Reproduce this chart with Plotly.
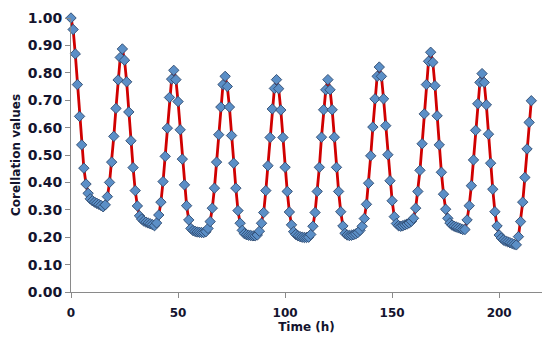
import plotly.graph_objects as go

hours = list(range(0, 216))

corr_values = [
    # 0-24
    1.000, 0.958, 0.869, 0.757, 0.641, 0.537, 0.452, 0.394, 0.360, 0.340,
    0.333, 0.328, 0.324, 0.320, 0.316, 0.311, 0.318, 0.348, 0.400, 0.474,
    0.568, 0.670, 0.774, 0.856, 0.887,
    # 25-48
    0.846, 0.767, 0.657, 0.552, 0.454, 0.370, 0.314, 0.278, 0.266, 0.259,
    0.255, 0.252, 0.249, 0.246, 0.242, 0.252, 0.281, 0.328, 0.403, 0.495,
    0.598, 0.710, 0.777, 0.809,
    # 49-72
    0.775, 0.695, 0.592, 0.485, 0.391, 0.315, 0.263, 0.232, 0.224, 0.221,
    0.219, 0.218, 0.217, 0.217, 0.220, 0.232, 0.257, 0.306, 0.379, 0.474,
    0.574, 0.675, 0.757, 0.787,
    # 73-96
    0.750, 0.675, 0.571, 0.470, 0.379, 0.297, 0.251, 0.225, 0.213, 0.209,
    0.207, 0.206, 0.205, 0.205, 0.208, 0.222, 0.251, 0.290, 0.370, 0.461,
    0.564, 0.668, 0.743, 0.775,
    # 97-120
    0.742, 0.664, 0.564, 0.455, 0.367, 0.292, 0.245, 0.220, 0.210, 0.205,
    0.202, 0.200, 0.199, 0.199, 0.200, 0.210, 0.240, 0.290, 0.367, 0.455,
    0.565, 0.665, 0.738, 0.775,
    # 121-144
    0.738, 0.665, 0.565, 0.455, 0.367, 0.293, 0.241, 0.214, 0.208, 0.206,
    0.207, 0.209, 0.212, 0.217, 0.225, 0.240, 0.268, 0.320, 0.397, 0.497,
    0.602, 0.705, 0.787, 0.821,
    # 145-168
    0.787, 0.705, 0.607, 0.501, 0.406, 0.333, 0.275, 0.250, 0.242, 0.240,
    0.242, 0.245, 0.248, 0.252, 0.258, 0.269, 0.306, 0.367, 0.444, 0.541,
    0.650, 0.757, 0.842, 0.875,
    # 169-192
    0.838, 0.753, 0.643, 0.537, 0.437, 0.357, 0.302, 0.269, 0.252, 0.244,
    0.240, 0.237, 0.234, 0.231, 0.228, 0.228, 0.263, 0.315, 0.388, 0.482,
    0.590, 0.687, 0.765, 0.797,
    # 193-215
    0.765, 0.683, 0.576, 0.470, 0.375, 0.293, 0.241, 0.208, 0.197, 0.190,
    0.186, 0.183, 0.180, 0.177, 0.174, 0.172, 0.202, 0.257, 0.328, 0.418,
    0.522, 0.619, 0.698,
]

x_tick_values = [0, 50, 100, 150, 200]
y_tick_values = [0.0, 0.1, 0.2, 0.3, 0.4, 0.5, 0.6, 0.7, 0.8, 0.9, 1.0]

FONT = "DejaVu Sans"
TXT = "#14142e"

fig = go.Figure()
fig.add_trace(go.Scatter(
    x=hours, y=corr_values, mode="lines+markers",
    line=dict(color="#d00000", width=2.8),
    marker=dict(symbol="diamond", size=8, color="#5b8fc7",
                line=dict(color="#2f4a6e", width=0.9)),
    cliponaxis=False, showlegend=False,
))

# the page body has an 8px margin, so the figure is sized/margined to compensate
fig.update_layout(
    width=542, height=333,
    margin=dict(l=63, r=8, t=10, b=49),
    paper_bgcolor="white", plot_bgcolor="white",
    font=dict(family=FONT, color=TXT),
)
fig.update_xaxes(
    range=[0, 220], tickvals=x_tick_values, automargin=False,
    showgrid=False, zeroline=False,
    showline=True, linecolor="#8a8a8a", linewidth=1,
    ticks="outside", ticklen=5, tickcolor="#8a8a8a",
    ticklabelstandoff=5,
    tickfont=dict(family=FONT, size=12, color=TXT, weight="bold"),
    title=dict(text="<b>Time (h)</b>", font=dict(family=FONT, size=12, color=TXT), standoff=3),
)
fig.update_yaxes(
    range=[0, 1.0], tickvals=y_tick_values, tickformat=".2f", automargin=False,
    showgrid=False, zeroline=False,
    showline=True, linecolor="#8a8a8a", linewidth=1,
    ticks="outside", ticklen=5, tickcolor="#8a8a8a",
    tickfont=dict(family=FONT, size=14, color=TXT, weight="bold"),
    title=dict(text="<b>Corellation values</b>", font=dict(family=FONT, size=12, color=TXT), standoff=4),
)

fig.write_html("out.html")
